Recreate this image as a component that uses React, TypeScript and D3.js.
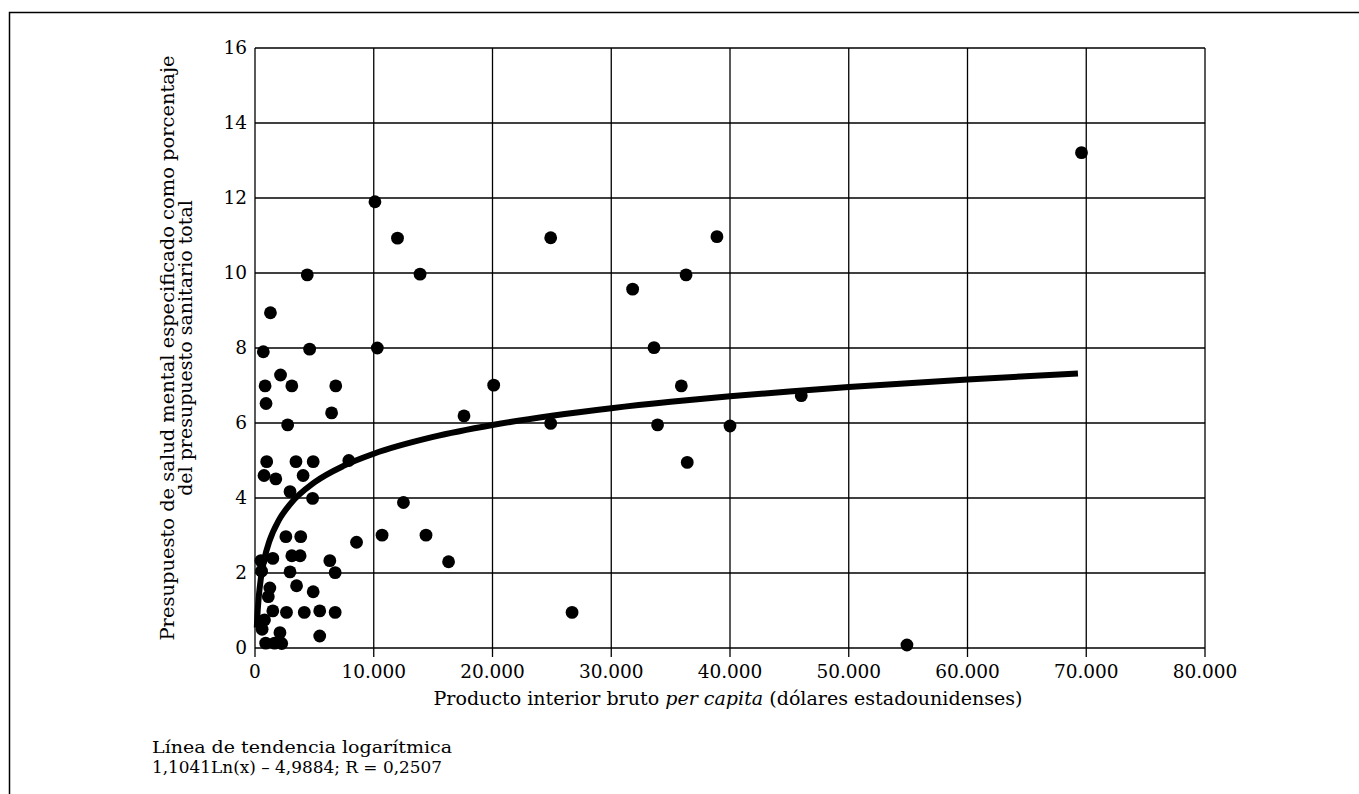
import React from "react";
import * as d3 from "d3";

const xTicks = [0, 10000, 20000, 30000, 40000, 50000, 60000, 70000, 80000];
const yTicks = [0, 2, 4, 6, 8, 10, 12, 14, 16];

const gdpX = [
  700, 4600, 10300, 10100, 12000, 4400, 13900, 1300, 2150, 850, 3100, 6800, 930, 6450, 2750,
  985, 3450, 4900, 7900, 760, 1750, 4050, 2950, 4850, 2600, 3850, 8550, 500, 1500, 3100,
  3800, 6300, 550, 2950, 6750, 1250, 1120, 3500, 4900, 1500, 2650, 4150, 5450, 6750, 600,
  2100, 5450, 900, 1650, 2250, 800, 10700, 14400, 12500, 16300, 17600, 20100, 24900, 38900, 36300,
  31800, 33600, 35900, 24900, 33900, 40000, 36400, 46000, 69600, 54900, 26700,
];
const mentalY = [
  7.9, 7.97, 8.0, 11.9, 10.93, 9.95, 9.97, 8.94, 7.28, 6.99, 6.99, 6.99, 6.52, 6.27, 5.95,
  4.97, 4.97, 4.97, 5.0, 4.6, 4.51, 4.6, 4.17, 3.99, 2.97, 2.97, 2.82, 2.33, 2.39, 2.46,
  2.46, 2.33, 2.05, 2.03, 2.01, 1.6, 1.37, 1.66, 1.5, 0.99, 0.95, 0.95, 0.99, 0.95, 0.5,
  0.41, 0.32, 0.13, 0.13, 0.12, 0.75, 3.01, 3.01, 3.88, 2.3, 6.19, 7.01, 10.94, 10.97, 9.95,
  9.57, 8.01, 6.99, 5.99, 5.95, 5.92, 4.95, 6.73, 13.21, 0.08, 0.95,
];

// Trend line: 1,1041 Ln(x) - 4,9884 (as printed on the chart)
const trendA = 1.1041;
const trendB = -4.9884;
const trendX = [
  150, 200, 300, 500, 800, 1200, 2000, 3000, 5000, 7500, 10000, 15000, 20000, 25000, 30000,
  35000, 40000, 45000, 50000, 55000, 60000, 64500, 69300,
];

const FONT = "'DejaVu Serif', serif";

export default function App() {
  const W = 1359;
  const H = 794;
  const left = 255;
  const right = 1205;
  const top = 48;
  const bottom = 648;

  const x = d3.scaleLinear().domain([0, 80000]).range([left, right]);
  const y = d3.scaleLinear().domain([0, 16]).range([bottom, top]);
  const fmt = (v: number) => (v === 0 ? "0" : d3.format(",")(v).replace(/,/g, "."));

  const trendPts = trendX.map((v) => [v, trendA * Math.log(v) + trendB] as [number, number]);
  const line = d3
    .line<[number, number]>()
    .x((d) => x(d[0]))
    .y((d) => y(d[1]))
    .curve(d3.curveMonotoneX);

  return (
    <svg
      width={W}
      height={H}
      style={{ position: "fixed", left: 0, top: 0, background: "#fff" }}
      fontFamily={FONT}
    >
      <rect x={0} y={0} width={W} height={H} fill="#fff" />
      {/* outer frame */}
      <path d={`M9.5,${H} L9.5,12.5 L${W},12.5`} fill="none" stroke="#000" strokeWidth={1.5} />

      {/* grid */}
      {xTicks.map((t) => (
        <line key={"gx" + t} x1={x(t)} x2={x(t)} y1={top} y2={bottom + 9} stroke="#000" strokeWidth={1.3} />
      ))}
      {yTicks.map((t) => (
        <line key={"gy" + t} x1={left} x2={right} y1={y(t)} y2={y(t)} stroke="#000" strokeWidth={1.3} />
      ))}

      {/* tick labels */}
      {yTicks.map((t) => (
        <text key={"ly" + t} x={left - 8} y={y(t)} dy="0.35em" textAnchor="end" fontSize={18.5}>
          {t}
        </text>
      ))}
      {xTicks.map((t) => (
        <text key={"lx" + t} x={x(t)} y={bottom + 30} textAnchor="middle" fontSize={18.5}>
          {fmt(t)}
        </text>
      ))}

      {/* trend line */}
      <path d={line(trendPts) || ""} fill="none" stroke="#000" strokeWidth={6} strokeLinejoin="round" />

      {/* points */}
      {gdpX.map((g, i) => (
        <circle key={"p" + i} cx={x(g)} cy={y(mentalY[i])} r={6.4} fill="#000" />
      ))}

      {/* axis titles */}
      <text
        x={728}
        y={bottom + 57}
        textAnchor="middle"
        fontSize={19}
        textLength={589}
        lengthAdjust="spacingAndGlyphs"
      >
        Producto interior bruto <tspan fontStyle="italic">per capita</tspan> (dólares estadounidenses)
      </text>
      <g transform={`translate(174, ${(top + bottom) / 2}) rotate(-90)`}>
        <text x={0} y={0} textAnchor="middle" fontSize={19} textLength={585} lengthAdjust="spacingAndGlyphs">
          Presupuesto de salud mental especificado como porcentaje
        </text>
        <text x={0} y={18} textAnchor="middle" fontSize={19}>
          del presupuesto sanitario total
        </text>
      </g>

      {/* note */}
      <text x={152} y={753} fontSize={17} textLength={300} lengthAdjust="spacingAndGlyphs">
        Línea de tendencia logarítmica
      </text>
      <text x={152} y={773} fontSize={17} textLength={290} lengthAdjust="spacingAndGlyphs">
        1,1041Ln(x) – 4,9884; R = 0,2507
      </text>
    </svg>
  );
}
